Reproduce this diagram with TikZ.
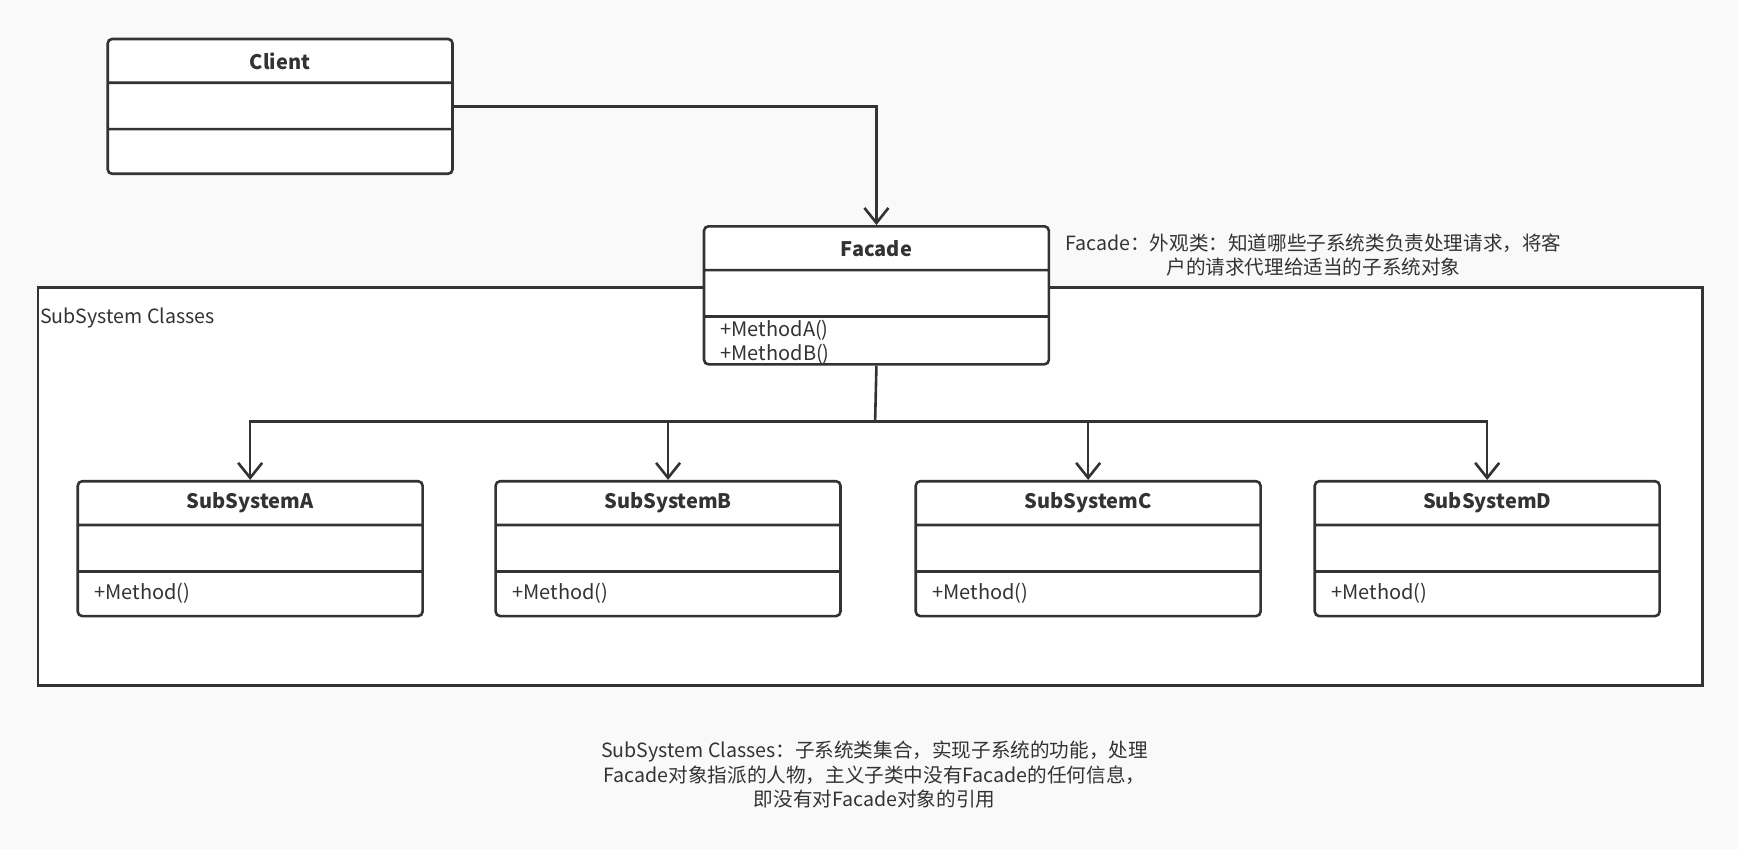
\documentclass[tikz,border=0pt]{standalone}
\usepackage{fontspec}
\setmainfont{Noto Sans CJK SC}
\usetikzlibrary{arrows.meta,positioning,shapes.multipart}
\definecolor{umlline}{HTML}{333333}
\definecolor{canvas}{HTML}{F9F9F9}
\newcommand{\cpart}[3][c]{\parbox[c][#2][#1]{172.4pt}{#3}}
\tikzset{umlclass/.style={rectangle split, rectangle split parts=3, draw=umlline, fill=white, line width=1.3pt, rounded corners=2.2pt, inner sep=0pt, anchor=north west, text=umlline, font=\fontsize{10}{12.2}\selectfont},
  assoc/.style={draw=umlline, line width=1.3pt, -{Straight Barb[length=7.5pt,width=12pt,line width=1.3pt]}},
  frame/.style={draw=umlline, fill=white, line width=1.3pt, inner sep=0pt, anchor=north west, minimum width=832.4pt, minimum height=199pt},
  note/.style={align=center, text=umlline, inner sep=0pt, font=\fontsize{9.8}{12.2}\selectfont}}

\begin{document}
\begin{tikzpicture}[x=0.5542pt, y=-0.5542pt]
    \fill[canvas] (0,0) rectangle (1568,766);
    \useasboundingbox (0,0) rectangle (1568,766);
    \node[frame] (subsystems) at (33,258) {};
    \node[note, anchor=west] (framelabel) at (36,287) {SubSystem Classes};
    \node[umlclass] (client) at (96,34) {\cpart{20.6pt}{\centering\bfseries Client}
        \nodepart{two}\cpart{21.9pt}{}
        \nodepart{three}\cpart{21pt}{}};
    \node[umlclass] (facade) at (634,203) {\cpart{20.6pt}{\centering\bfseries Facade}
        \nodepart{two}\cpart{21.9pt}{}
        \nodepart{three}\cpart[t]{22.6pt}{\vspace*{1pt}\hspace*{8.3pt}+MethodA()\\\hspace*{8.3pt}+MethodB()}};
    \node[umlclass] (subA) at (69,433) {\cpart{20.6pt}{\centering\bfseries SubSystemA}
        \nodepart{two}\cpart{21.9pt}{}
        \nodepart{three}\cpart{21pt}{\hspace*{8.3pt}+Method()}};
    \node[umlclass] (subB) at (446,433) {\cpart{20.6pt}{\centering\bfseries SubSystemB}
        \nodepart{two}\cpart{21.9pt}{}
        \nodepart{three}\cpart{21pt}{\hspace*{8.3pt}+Method()}};
    \node[umlclass] (subC) at (825,433) {\cpart{20.6pt}{\centering\bfseries SubSystemC}
        \nodepart{two}\cpart{21.9pt}{}
        \nodepart{three}\cpart{21pt}{\hspace*{8.3pt}+Method()}};
    \node[umlclass] (subD) at (1185,433) {\cpart{20.6pt}{\centering\bfseries SubSystemD}
        \nodepart{two}\cpart{21.9pt}{}
        \nodepart{three}\cpart{21pt}{\hspace*{8.3pt}+Method()}};
    \node[note] (facadenote) at (1185,230) {Facade：外观类：知道哪些子系统类负责处理请求，将客\\户的请求代理给适当的子系统对象};
    \node[note] (classnote) at (789,699) {SubSystem Classes：子系统类集合，实现子系统的功能，处理\\Facade对象指派的人物，主义子类中没有Facade的任何信息，\\即没有对Facade对象的引用};
    \coordinate (bus) at (789.5,380);
    \draw[assoc] (client.east) -| (facade.north);
    \draw[draw=umlline, line width=1.3pt] (facade.south) -- (bus);
    \draw[assoc] (bus) -| (subA.north);
    \draw[assoc] (bus) -| (subB.north);
    \draw[assoc] (bus) -| (subC.north);
    \draw[assoc] (bus) -| (subD.north);
\end{tikzpicture}
\end{document}
